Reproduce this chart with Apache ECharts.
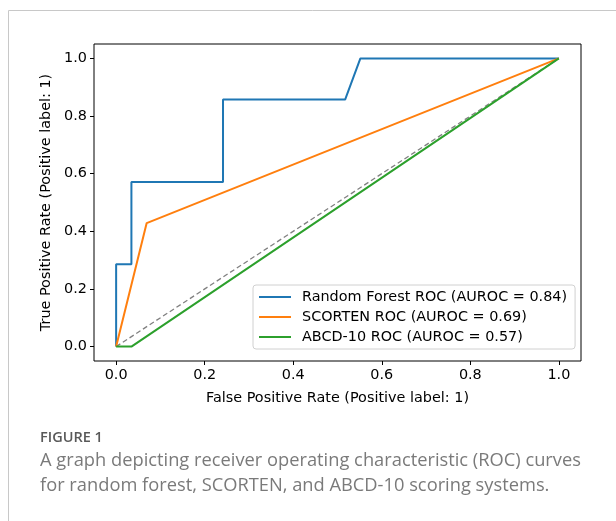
<!DOCTYPE html>
<html><head><meta charset="utf-8">
<script src="https://cdn.jsdelivr.net/npm/echarts@6/dist/echarts.min.js"></script>
<style>html,body{margin:0;padding:0;background:#fff}#c{width:616px;height:521px}</style>
</head><body><div id="c"></div>
<script>
const rfFpr = [0, 0, 0.0345, 0.0345, 0.2414, 0.2414, 0.5172, 0.5517, 1];
const rfTpr = [0, 0.2857, 0.2857, 0.5714, 0.5714, 0.8571, 0.8571, 1, 1];
const scFpr = [0, 0.069, 1];
const scTpr = [0, 0.4286, 1];
const abFpr = [0, 0.0345, 1];
const abTpr = [0, 0, 1];
const diagX = [0, 1];
const diagY = [0, 1];
const tickValues = [0, 0.2, 0.4, 0.6, 0.8, 1.0];
const seriesNames = ['Random Forest ROC (AUROC = 0.84)', 'SCORTEN ROC (AUROC = 0.69)', 'ABCD-10 ROC (AUROC = 0.57)'];
const colors = ['#1f77b4', '#ff7f0e', '#2ca02c'];
const xName = 'False Positive Rate (Positive label: 1)';
const yName = 'True Positive Rate (Positive label: 1)';
const captionTitle = 'FIGURE 1';
const captionLines = ['A graph depicting receiver operating characteristic (ROC) curves', 'for random forest, SCORTEN, and ABCD-10 scoring systems.'];

const zip = (a, b) => a.map((v, i) => [v, b[i]]);
const font = 'DejaVu Sans';
const fs = 14.4;
const axisCommon = {
  type: 'value', min: -0.05, max: 1.05,
  splitLine: {show: false},
  axisLine: {show: false, onZero: false},
  axisTick: {show: true, inside: false, length: 4, customValues: tickValues, lineStyle: {color: '#000', width: 1}},
  axisLabel: {customValues: tickValues, formatter: v => v.toFixed(1), color: '#000', fontFamily: font, fontSize: fs, margin: 7},
  nameLocation: 'middle',
  nameTextStyle: {color: '#000', fontFamily: font, fontSize: fs}
};
const chart = echarts.init(document.getElementById('c'), null, {renderer: 'canvas'});
chart.setOption({
  animation: false,
  grid: {left: 94, top: 44, width: 487, height: 317, show: true, borderColor: '#000', borderWidth: 1, backgroundColor: 'transparent'},
  xAxis: Object.assign({}, axisCommon, {name: xName, nameGap: 30}),
  yAxis: Object.assign({}, axisCommon, {name: yName, nameGap: 39}),
  legend: {
    data: seriesNames, orient: 'vertical', left: 253, top: 285, width: 322,
    padding: [5, 8, 5, 6], itemGap: 6, itemWidth: 32, itemHeight: 2, icon: 'rect',
    borderColor: '#d0d0d0', borderWidth: 1, borderRadius: 3, backgroundColor: '#fff',
    textStyle: {color: '#000', fontFamily: font, fontSize: fs, padding: [0, 0, 0, 6]}
  },
  series: [
    {name: seriesNames[0], type: 'line', data: zip(rfFpr, rfTpr), showSymbol: false, lineStyle: {color: colors[0], width: 2}, itemStyle: {color: colors[0]}, z: 3},
    {name: seriesNames[1], type: 'line', data: zip(scFpr, scTpr), showSymbol: false, lineStyle: {color: colors[1], width: 2}, itemStyle: {color: colors[1]}, z: 3},
    {name: seriesNames[2], type: 'line', data: zip(abFpr, abTpr), showSymbol: false, lineStyle: {color: colors[2], width: 2}, itemStyle: {color: colors[2]}, z: 3},
    {name: 'diag', type: 'line', data: zip(diagX, diagY), showSymbol: false, lineStyle: {color: '#808080', width: 1.3, type: [5, 3]}, z: 2}
  ],
  graphic: [
    {type: 'line', shape: {x1: 8.5, y1: 10.5, x2: 616, y2: 10.5}, style: {stroke: '#c8c8c8', lineWidth: 1}},
    {type: 'line', shape: {x1: 8.5, y1: 10.5, x2: 8.5, y2: 521}, style: {stroke: '#c8c8c8', lineWidth: 1}},
    {type: 'text', left: 40, top: 430, style: {text: captionTitle, fill: '#595959', font: '600 14.5px "Open Sans"'}},
    {type: 'text', left: 40, top: 452, style: {text: captionLines[0], fill: '#7a7a7a', font: '18.3px "Open Sans"'}},
    {type: 'text', left: 40, top: 477, style: {text: captionLines[1], fill: '#7a7a7a', font: '18.3px "Open Sans"'}}
  ]
});
</script></body></html>
